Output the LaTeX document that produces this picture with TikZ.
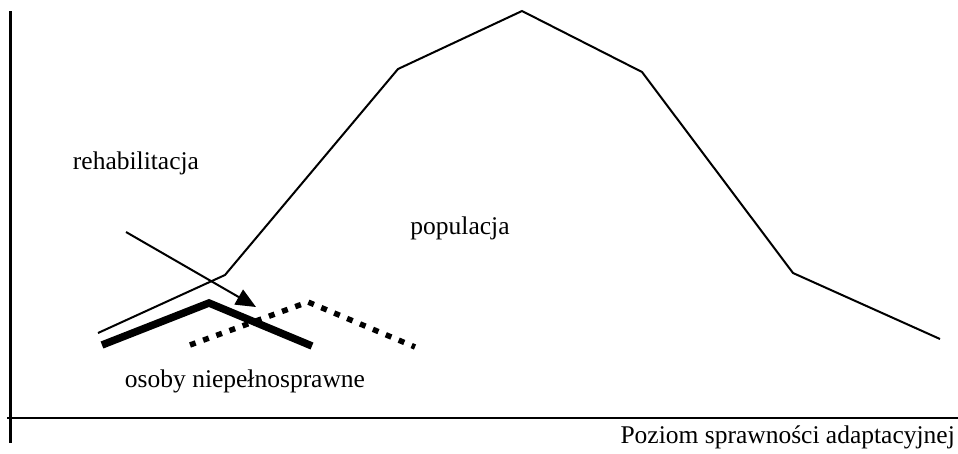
\documentclass[tikz,border=0pt]{standalone}
\usepackage{fontspec}
\setmainfont{Liberation Serif}
\usetikzlibrary{arrows.meta}
\begin{document}
\begin{tikzpicture}[x=1pt,y=-1pt,
  lbl/.style={inner sep=0pt,font=\fontsize{25.5}{30}\selectfont},
  axis/.style={line width=2.2pt},
  curve/.style={line width=2pt,line join=miter},
  thick line/.style={line width=7.5pt},
  dotline/.style={line width=5.5pt,dash pattern=on 6pt off 8pt},
  arr/.style={line width=2pt,-{Triangle[length=20pt,width=17pt]}}]
\useasboundingbox (0,0) rectangle (958,453);
% axes
\coordinate (yt) at (10.5,11);
\coordinate (yb) at (10.5,443);
\coordinate (xl) at (7,418);
\coordinate (xr) at (958,418);
\draw[axis] (yt) -- (yb);
\draw[axis] (xl) -- (xr);
% population
\coordinate (p1) at (98,333);
\coordinate (p2) at (225,275);
\coordinate (p3) at (398,69);
\coordinate (p4) at (522,11);
\coordinate (p5) at (642,72);
\coordinate (p6) at (793,273);
\coordinate (p7) at (940,339);
\draw[curve] (p1) -- (p2) -- (p3) -- (p4) -- (p5) -- (p6) -- (p7);
% disabled persons
\coordinate (d1) at (102,345);
\coordinate (d2) at (209,303);
\coordinate (d3) at (312,346);
\draw[thick line] (d1) -- (d2) -- (d3);
% rehabilitated
\coordinate (r1) at (190,345);
\coordinate (r2) at (308,302);
\coordinate (r3) at (415,347);
\draw[dotline] (r1) -- (r2) -- (r3);
% arrow
\coordinate (a1) at (126,232);
\coordinate (a2) at (256,307);
\draw[arr] (a1) -- (a2);
% labels
\node[lbl] (reh) at (136,163) {rehabilitacja};
\node[lbl] (pop) at (460,228) {populacja};
\node[lbl] (osoby) at (245,381) {osoby niepełnosprawne};
\node[lbl,anchor=east] (poz) at (955,437) {Poziom sprawności adaptacyjnej};
\end{tikzpicture}
\end{document}
